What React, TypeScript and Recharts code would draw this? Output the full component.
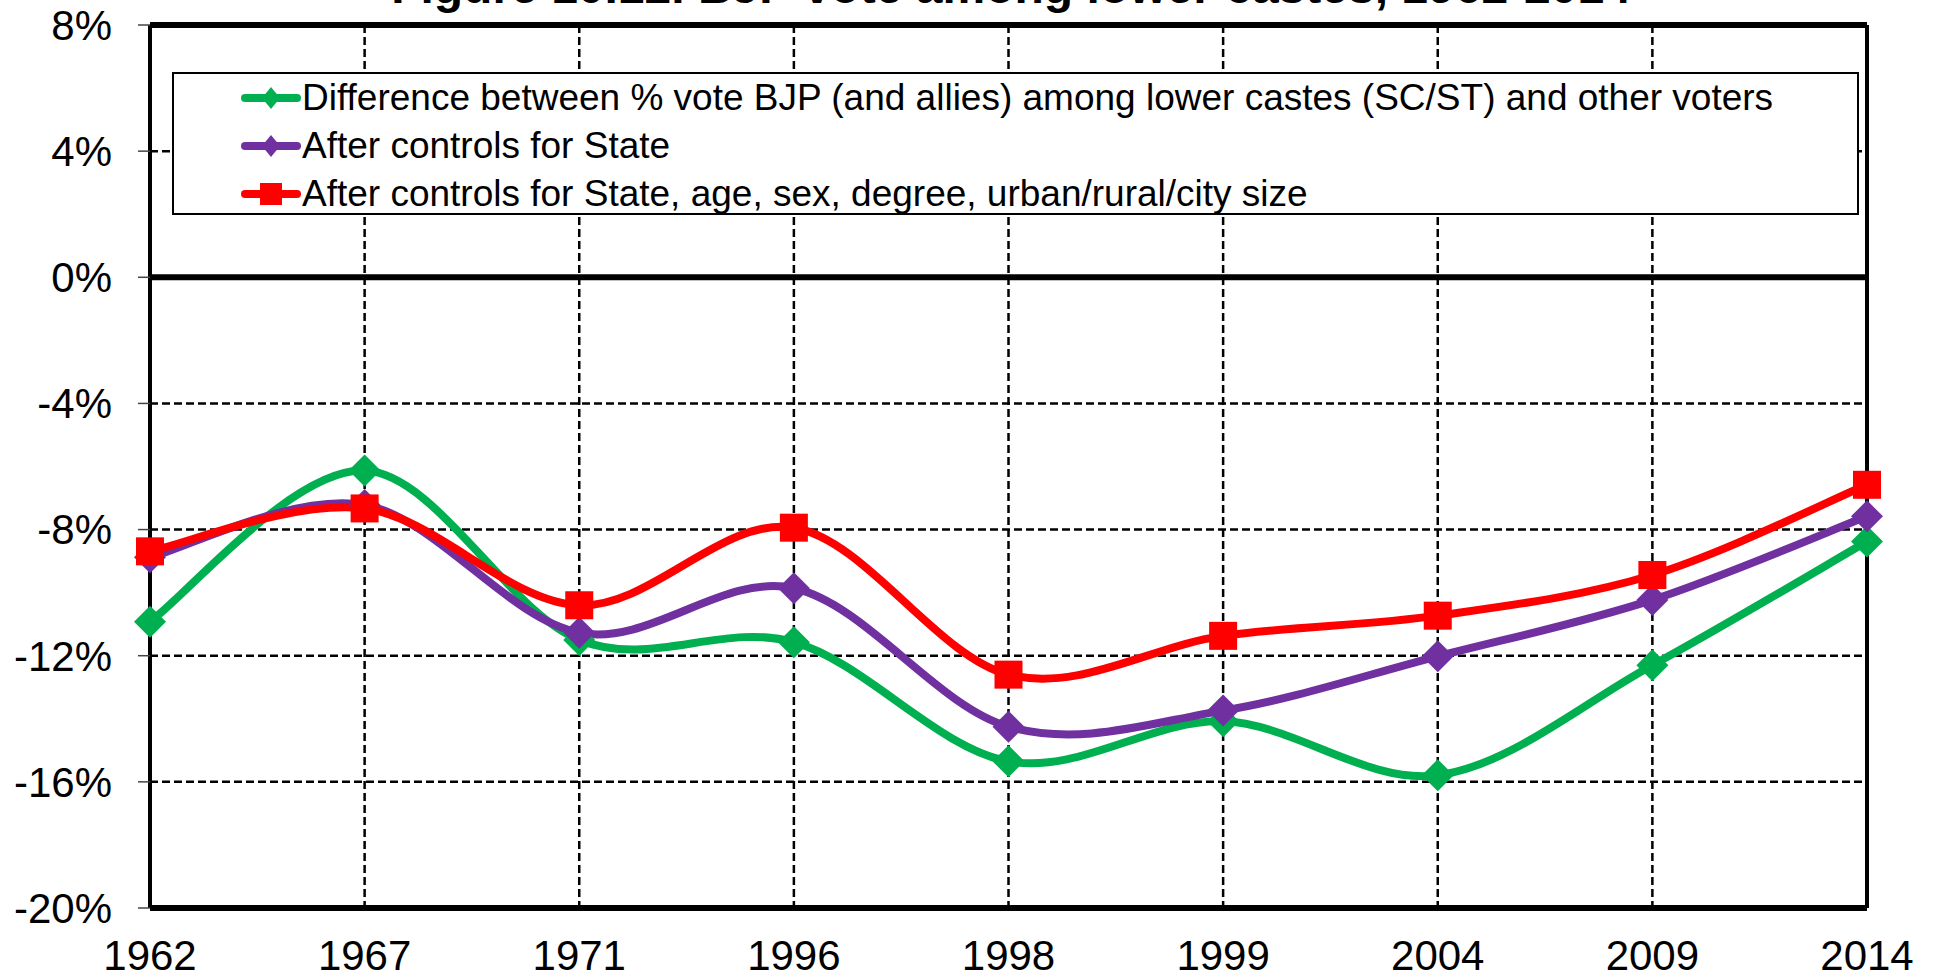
import React from 'react'
import {
  LineChart, Line, XAxis, YAxis, CartesianGrid, ReferenceLine, Legend,
} from 'recharts'

const FONT = 'Arial, "Liberation Sans", sans-serif'

// Années (axe des catégories)
const years = ['1962', '1967', '1971', '1996', '1998', '1999', '2004', '2009', '2014']

// Écart de vote BJP, basses castes vs autres (points de %)
const rawGap =       [-10.92, -6.13, -11.5, -11.57, -15.35, -14.08, -15.79, -12.3, -8.38]
const stateCtrl =    [-8.88, -7.22, -11.27, -9.86, -14.25, -13.74, -12.02, -10.23, -7.58]
const fullCtrl =     [-8.69, -7.33, -10.4, -7.94, -12.6, -11.37, -10.73, -9.44, -6.58]

const yTicks = [-20, -16, -12, -8, -4, 0, 4, 8]

const seriesNames = [
  'Difference between % vote BJP (and allies) among lower castes (SC/ST) and other voters',
  'After controls for State',
  'After controls for State, age, sex, degree, urban/rural/city size',
]
const seriesColors = ['#00B050', '#7030A0', '#FF0000']
const seriesShapes = ['diamond', 'diamond', 'square']

const data = years.map((year, i) => ({
  year,
  raw: rawGap[i],
  state: stateCtrl[i],
  full: fullCtrl[i],
}))

// Lissage façon Excel : Bézier type Catmull-Rom (tangentes à 1/6)
const excelCurve = (context: any) => {
  let pts: [number, number][] = []
  return {
    areaStart() {},
    areaEnd() {},
    lineStart() { pts = [] },
    point(x: number, y: number) { pts.push([+x, +y]) },
    lineEnd() {
      const n = pts.length
      if (!n) return
      context.moveTo(pts[0][0], pts[0][1])
      for (let i = 0; i < n - 1; i++) {
        const p0 = pts[Math.max(i - 1, 0)]
        const p1 = pts[i]
        const p2 = pts[i + 1]
        const p3 = pts[Math.min(i + 2, n - 1)]
        context.bezierCurveTo(
          p1[0] + (p2[0] - p0[0]) / 6, p1[1] + (p2[1] - p0[1]) / 6,
          p2[0] - (p3[0] - p1[0]) / 6, p2[1] - (p3[1] - p1[1]) / 6,
          p2[0], p2[1],
        )
      }
    },
  }
}

const Marker = ({ cx, cy, color, shape, hw, hh }: any) => {
  if (shape === 'square') {
    return <rect x={cx - hw} y={cy - hw} width={hw * 2} height={hw * 2} fill={color} />
  }
  return (
    <path
      d={`M${cx},${cy - hh} L${cx + hw},${cy} L${cx},${cy + hh} L${cx - hw},${cy} Z`}
      fill={color}
    />
  )
}

const makeDot = (color: string, shape: string) => (props: any) => {
  const { cx, cy, index } = props
  if (cx == null || cy == null) return <g key={`d-${index}`} />
  return (
    <Marker
      key={`d-${index}`}
      cx={cx} cy={cy} color={color} shape={shape}
      hw={shape === 'square' ? 14 : 16} hh={16}
    />
  )
}

const renderLegend = () => (
  <div style={{
    width:      1687,
    height:     143,
    boxSizing:  'border-box',
    border:     '2px solid #000',
    background: '#fff',
    fontFamily: FONT,
    color:      '#000',
  }}>
    {seriesNames.map((name, i) => (
      <div key={name} style={{ display: 'flex', alignItems: 'center', height: 48 }}>
        <svg width={60} height={30} style={{ marginLeft: 67, flex: 'none' }}>
          <line x1={4} y1={15} x2={56} y2={15}
            stroke={seriesColors[i]} strokeWidth={8} strokeLinecap="round" />
          <Marker cx={30} cy={15} color={seriesColors[i]} shape={seriesShapes[i]}
            hw={seriesShapes[i] === 'square' ? 11 : 9} hh={11} />
        </svg>
        <span style={{ fontSize: 37, marginLeft: 1, whiteSpace: 'nowrap' }}>{name}</span>
      </div>
    ))}
  </div>
)

export default function App() {
  const keys = ['raw', 'state', 'full']
  return (
    <div style={{ position: 'absolute', left: 0, top: 0, width: 1934, height: 977, background: '#fff' }}>
      <div style={{
        position:   'absolute',
        top:        -37,
        left:       1011,
        transform:  'translateX(-50%)',
        fontFamily: FONT,
        fontWeight: 700,
        fontSize:   48,
        lineHeight: '48px',
        whiteSpace: 'nowrap',
        color:      '#000',
      }}>
        Figure 10.12. BJP vote among lower castes, 1962-2014
      </div>
      <LineChart
        width={1934}
        height={977}
        data={data}
        margin={{ top: 25, right: 67, bottom: 9, left: 10 }}
      >
        <CartesianGrid stroke="#000" strokeWidth={2.5} strokeDasharray="8 4" />
        <XAxis
          dataKey="year"
          height={60}
          axisLine={false}
          tickLine={false}
          tickSize={0}
          tickMargin={32}
          interval={0}
          tick={{ fontSize: 42, fill: '#000', fontFamily: FONT }}
        />
        <YAxis
          width={140}
          domain={[-20, 8]}
          ticks={yTicks}
          interval={0}
          axisLine={false}
          tickSize={12}
          tickMargin={26}
          tickLine={{ stroke: '#444', strokeWidth: 1.5 }}
          tickFormatter={(v: number) => `${v}%`}
          tick={{ fontSize: 42, fill: '#000', fontFamily: FONT }}
        />
        <ReferenceLine y={0} stroke="#000" strokeWidth={6} />
        <ReferenceLine y={8} stroke="#000" strokeWidth={6} />
        <ReferenceLine y={-20} stroke="#000" strokeWidth={6} />
        <ReferenceLine x="1962" stroke="#000" strokeWidth={4} />
        <ReferenceLine x="2014" stroke="#000" strokeWidth={4} />
        <Legend
          layout="horizontal"
          verticalAlign="middle"
          align="center"
          wrapperStyle={{ left: 172, top: 72, width: 1687, height: 143 }}
          content={renderLegend}
        />
        {keys.map((k, i) => (
          <Line
            key={k}
            dataKey={k}
            name={seriesNames[i]}
            type={excelCurve as any}
            stroke={seriesColors[i]}
            strokeWidth={8}
            dot={makeDot(seriesColors[i], seriesShapes[i])}
            activeDot={false}
            isAnimationActive={false}
          />
        ))}
      </LineChart>
    </div>
  )
}
